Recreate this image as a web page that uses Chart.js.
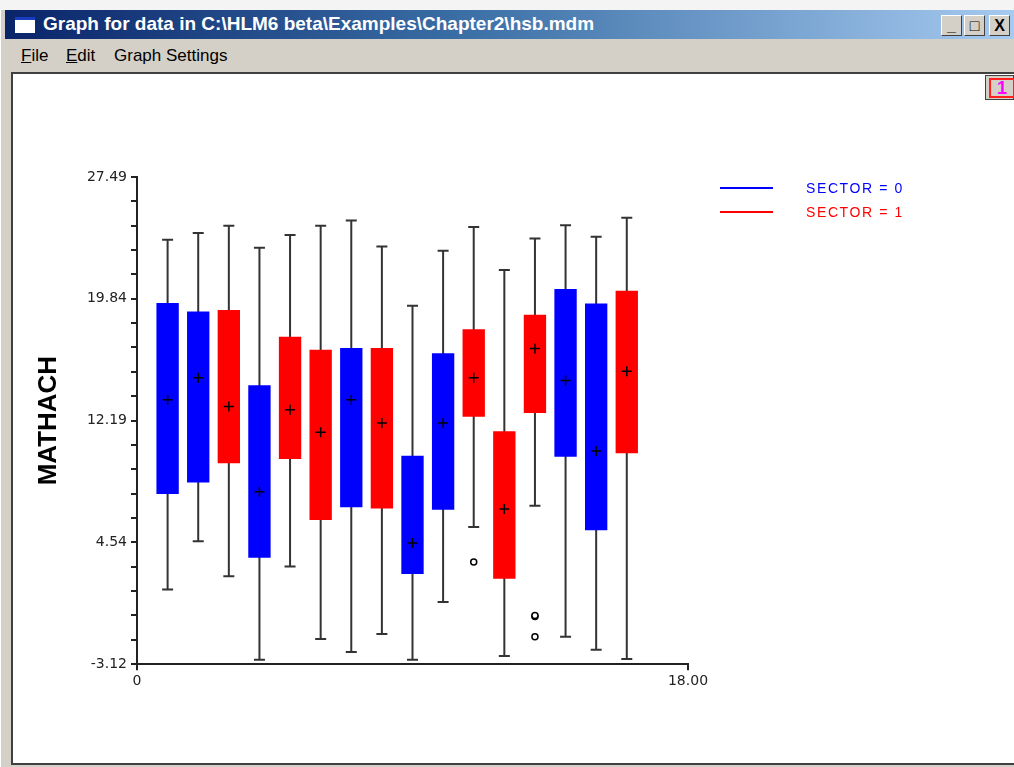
<!DOCTYPE html>
<html>
<head>
<meta charset="utf-8">
<title>Graph for data in C:\HLM6 beta\Examples\Chapter2\hsb.mdm</title>
<script src="https://cdn.jsdelivr.net/npm/chart.js@4.4.1/dist/chart.umd.min.js"></script>
<style>
  html, body { margin: 0; padding: 0; }
  body { width: 1014px; height: 767px; background: #f4f4f4; position: relative; overflow: hidden; font-family: "Liberation Sans", Arial, sans-serif; }
  #frame { position: absolute; left: 0; top: 10px; width: 1014px; height: 757px; background: #d4d0c8; border-left: 1px solid #ffffff; }
  #titlebar { position: absolute; left: 4px; top: 0; width: 1010px; height: 29px; background: linear-gradient(to right, #0a246a 0%, #3a6ea5 45%, #a6caf0 100%); }
  #icon { position: absolute; left: 10px; top: 7px; width: 20px; height: 16px; background: #fff; border-top: 3px solid #1a3cc0; box-sizing: border-box; }
  #titletext { position: absolute; left: 38px; top: 3px; color: #fff; font-weight: bold; font-size: 19px; font-family: "Liberation Sans", Arial, sans-serif; white-space: nowrap; }
  .btn { position: absolute; top: 5px; width: 21px; height: 21px; background: #d4d0c8; border-top: 1px solid #fff; border-left: 1px solid #fff; border-right: 1px solid #404040; border-bottom: 1px solid #404040; box-sizing: border-box; font: bold 16px "Liberation Sans", Arial, sans-serif; text-align: center; line-height: 19px; color: #000; }
  #menubar { position: absolute; left: 4px; top: 29px; height: 32px; font-size: 17px; font-family: "Liberation Sans", Arial, sans-serif; color: #000; }
  #menubar span { position: absolute; top: 7px; white-space: nowrap; }
  #plotwin { position: absolute; left: 11px; top: 72px; width: 1003px; height: 693px; background: #fff; border-left: 2px solid #404040; border-top: 2px solid #404040; border-bottom: 2px solid #404040; box-sizing: border-box; }
  #chartbox { position: absolute; left: 12px; top: 74px; width: 1002px; height: 691px; }
  #pagebtn { position: absolute; left: 985px; top: 75px; width: 29px; height: 25px; background: #d4d0c8; border: 1px solid #404040; box-sizing: border-box; }
  #pagebtn div { position: absolute; left: 3px; top: 2px; width: 26px; height: 20px; border: 2px solid #ff2020; box-sizing: border-box; color: #ff00ff; font: bold 18px "Liberation Sans", Arial, sans-serif; line-height: 16px; padding-left: 6px; }
  .leg { position: absolute; font-size: 14px; letter-spacing: 1.6px; white-space: nowrap; }
  .legline { position: absolute; width: 53px; height: 2px; }
</style>
</head>
<body>
<div id="frame">
  <div id="titlebar">
    <div id="icon"></div>
    <div id="titletext">Graph for data in C:\HLM6 beta\Examples\Chapter2\hsb.mdm</div>
    <div class="btn" style="left:936px">_</div>
    <div class="btn" style="left:959px">&#9633;</div>
    <div class="btn" style="left:984px">X</div>
  </div>
  <div id="menubar">
    <span style="left:16px"><u>F</u>ile</span>
    <span style="left:61px"><u>E</u>dit</span>
    <span style="left:109px">Graph Settings</span>
  </div>
</div>
<div id="plotwin"></div>
<div id="chartbox"><canvas id="graph"></canvas></div>
<div id="pagebtn"><div>1</div></div>
<div class="legline" style="left:720px; top:187px; background:#0000ff"></div>
<div class="leg" style="left:806px; top:180px; color:#0000ff">SECTOR = 0</div>
<div class="legline" style="left:720px; top:211px; background:#ff0000"></div>
<div class="leg" style="left:806px; top:204px; color:#ff0000">SECTOR = 1</div>

<script>
// one box per school, x position 1..16
var positions = [1, 2, 3, 4, 5, 6, 7, 8, 9, 10, 11, 12, 13, 14, 15, 16];
var sector   = [0, 0, 1, 0, 1, 1, 0, 1, 0, 0, 1, 1, 1, 0, 0, 1];
var whiskerLow  = [1.58, 4.60, 2.40, -2.84, 3.02, -1.54, -2.36, -1.23, -2.84, 0.79, 5.50, -2.61, 6.84, -1.40, -2.21, -2.80];
var boxLow      = [7.58, 8.29, 9.50, 3.57, 9.78, 5.94, 6.74, 6.67, 2.55, 6.59, 12.42, 2.25, 12.66, 9.92, 5.29, 10.13];
var means       = [13.49, 14.87, 13.07, 7.72, 12.86, 11.45, 13.49, 12.04, 4.50, 12.04, 14.87, 6.63, 16.72, 14.70, 10.28, 15.29];
var boxHigh     = [19.57, 19.04, 19.13, 14.41, 17.45, 16.63, 16.74, 16.74, 9.97, 16.42, 17.93, 11.51, 18.84, 20.45, 19.54, 20.35];
var whiskerHigh = [23.55, 23.97, 24.43, 23.05, 23.84, 24.43, 24.75, 23.13, 19.40, 22.86, 24.35, 21.64, 23.63, 24.46, 23.74, 24.93];
// outliers: [position, value]
var outliers = [[11, 3.30], [13, -0.13], [13, -0.06], [13, -1.40]];

var yTickValues = [-3.12, 4.54, 12.19, 19.84, 27.49];
var yTickLabels = ['-3.12', '4.54', '12.19', '19.84', '27.49'];
var xTickValues = [0, 18];
var xTickLabels = ['0', '18.00'];
var sectorNames = ['SECTOR = 0', 'SECTOR = 1'];
var sectorColors = ['#0000ff', '#ff0000'];

function boxData(s) {
  var out = [];
  positions.forEach(function(p, i) {
    if (sector[i] === s) out.push({x: p, y: [boxLow[i], boxHigh[i]]});
  });
  return out;
}

function whiskerData() {
  var out = [];
  positions.forEach(function(p, i) {
    out.push({x: p, y: whiskerLow[i]});
    out.push({x: p, y: whiskerHigh[i]});
    out.push({x: p, y: null});
  });
  return out;
}

function capData() {
  var out = [];
  positions.forEach(function(p, i) {
    out.push({x: p, y: whiskerLow[i]});
    out.push({x: p, y: whiskerHigh[i]});
  });
  return out;
}

function meanData() {
  return positions.map(function(p, i) { return {x: p, y: means[i]}; });
}

function outlierData() {
  return outliers.map(function(o) { return {x: o[0], y: o[1]}; });
}

function printGraph() {
  var ctx = document.getElementById('graph').getContext('2d');
  new Chart(ctx, {
    type: 'bar',
    data: {
      datasets: [{
        type: 'line',
        label: 'means',
        data: meanData(),
        showLine: false,
        pointStyle: 'cross',
        pointRadius: 5,
        borderColor: '#000',
        borderWidth: 1.5,
        order: 0
      }, {
        type: 'line',
        label: 'outliers',
        data: outlierData(),
        showLine: false,
        pointStyle: 'circle',
        pointRadius: 3,
        backgroundColor: '#fff',
        borderColor: '#000',
        borderWidth: 1.5,
        order: 0
      }, {
        label: sectorNames[0],
        data: boxData(0),
        backgroundColor: sectorColors[0],
        borderWidth: 0,
        order: 2
      }, {
        label: sectorNames[1],
        data: boxData(1),
        backgroundColor: sectorColors[1],
        borderWidth: 0,
        order: 2
      }, {
        type: 'line',
        label: 'caps',
        data: capData(),
        showLine: false,
        pointStyle: 'line',
        pointRadius: 5.5,
        borderColor: '#333',
        borderWidth: 2,
        order: 3
      }, {
        type: 'line',
        label: 'whiskers',
        data: whiskerData(),
        pointRadius: 0,
        borderColor: '#333',
        borderWidth: 2,
        spanGaps: false,
        order: 4
      }]
    },
    options: {
      responsive: true,
      maintainAspectRatio: false,
      animation: false,
      events: [],
      layout: { padding: { left: 17, top: 103, right: 326, bottom: 72 } },
      datasets: {
        bar: { grouped: false, barPercentage: 0.73, categoryPercentage: 1 }
      },
      plugins: {
        legend: { display: false },
        tooltip: { enabled: false }
      },
      scales: {
        x: {
          type: 'linear',
          min: 0,
          max: 18,
          offset: false,
          afterBuildTicks: function(axis) {
            axis.ticks = xTickValues.map(function(v) { return {value: v}; });
          },
          ticks: {
            autoSkip: false,
            maxRotation: 0,
            padding: 3,
            color: '#222',
            font: { family: 'DejaVu Sans', size: 14 },
            callback: function(v) { return xTickLabels[xTickValues.indexOf(v)]; }
          },
          grid: { offset: false, drawOnChartArea: false, drawTicks: true, tickLength: 6, color: '#222', lineWidth: 2 },
          border: { display: true, color: '#222', width: 2 }
        },
        y: {
          type: 'linear',
          min: yTickValues[0],
          max: yTickValues[yTickValues.length - 1],
          afterFit: function(axis) { axis.width = 108; },
          afterBuildTicks: function(axis) {
            var t = [];
            for (var i = 0; i < yTickValues.length; i++) {
              t.push({value: yTickValues[i], major: true});
              if (i < yTickValues.length - 1) {
                var step = (yTickValues[i + 1] - yTickValues[i]) / 5;
                for (var k = 1; k < 5; k++) t.push({value: yTickValues[i] + step * k});
              }
            }
            axis.ticks = t;
          },
          ticks: {
            autoSkip: false,
            padding: 4,
            color: '#222',
            font: { family: 'DejaVu Sans', size: 14 },
            callback: function(v) {
              var i = yTickValues.indexOf(v);
              return i >= 0 ? yTickLabels[i] : '';
            }
          },
          grid: { drawOnChartArea: false, drawTicks: true, tickLength: 6, color: '#222', lineWidth: 2 },
          border: { display: true, color: '#222', width: 2 },
          title: {
            display: true,
            text: 'MATHACH',
            color: '#000',
            font: { family: 'Liberation Sans', size: 26, weight: 'bold' },
            padding: { top: 4, bottom: 4 }
          }
        }
      }
    }
  });
}

printGraph();
</script>
</body>
</html>
